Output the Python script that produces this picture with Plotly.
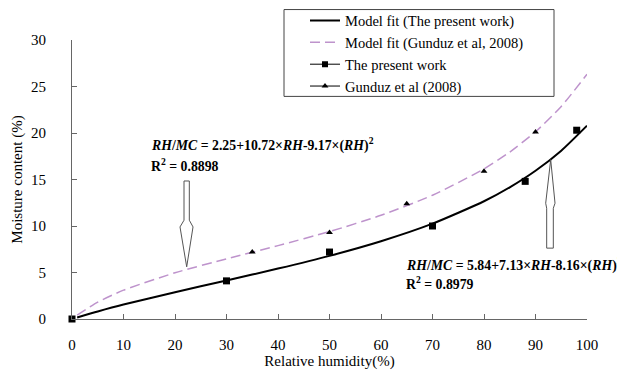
import plotly.graph_objects as go

# Model fit curves
fit_rh = [1, 5, 10, 20, 30, 40, 50, 60, 70, 80, 85, 90, 95, 100]
fit_present = [0.17, 0.81, 1.55, 2.88, 4.14, 5.42, 6.79, 8.36, 10.25, 12.66, 14.16, 15.94, 18.10, 20.79]
fit_gunduz = [0.42, 1.81, 3.10, 4.97, 6.47, 7.89, 9.40, 11.15, 13.31, 16.14, 17.95, 20.13, 22.85, 26.32]

# Experimental data
present_rh = [0, 30, 50, 70, 88, 98]
present_mc = [0.0, 4.1, 7.2, 10.0, 14.8, 20.3]
gunduz_rh = [35, 50, 65, 80, 90]
gunduz_mc = [7.2, 9.3, 12.4, 15.9, 20.1]

x_ticks = list(range(0, 101, 10))
y_ticks = list(range(0, 31, 5))

FONT = "Liberation Serif, Times New Roman, Times, serif"
VIOLET = "#BE93CC"

# page offset (body margin) compensation
OFF = 8
W, H = 625 - OFF, 379 - OFF
L, T = 72 - OFF, 39.5 - OFF
PW, PH = 515, 279.5


def px_x(p):
    return (p - 72) / PW


def px_y(p):
    return (319 - p) / PH


fig = go.Figure()
fig.add_trace(go.Scatter(x=fit_rh, y=fit_present, mode="lines", line=dict(color="black", width=2, shape="spline", smoothing=0.6),
                         name="Model fit (The present work)"))
fig.add_trace(go.Scatter(x=fit_rh, y=fit_gunduz, mode="lines", line=dict(color=VIOLET, width=1.5, dash="10px,5px", shape="spline", smoothing=0.6),
                         name="Model fit (Gunduz et al, 2008)"))
fig.add_trace(go.Scatter(x=present_rh, y=present_mc, mode="markers", marker=dict(symbol="square", size=7, color="black"),
                         showlegend=False, cliponaxis=False))
fig.add_trace(go.Scatter(x=gunduz_rh, y=gunduz_mc, mode="markers", marker=dict(symbol="triangle-up", size=6, color="black"),
                         showlegend=False))
# legend-only entries with line+marker samples
fig.add_trace(go.Scatter(x=[None], y=[None], mode="lines+markers", line=dict(color="black", width=1),
                         marker=dict(symbol="square", size=6, color="black"), name="The present work"))
fig.add_trace(go.Scatter(x=[None], y=[None], mode="lines+markers", line=dict(color="black", width=1),
                         marker=dict(symbol="triangle-up", size=6, color="black"), name="Gunduz et al (2008)"))

# legend frame
fig.add_shape(type="rect", xref="paper", yref="paper", x0=px_x(284), x1=px_x(554),
              y0=px_y(96), y1=px_y(9), line=dict(color="#444", width=1), fillcolor="rgba(0,0,0,0)")

# hollow arrows
arrow_style = dict(type="path", xref="x", yref="y", line=dict(color="#555", width=1), fillcolor="white")
fig.add_shape(path="M 21.75,14.84 L 22.78,14.84 L 22.78,10.62 L 23.5,9.9 L 22.27,5.61 L 20.97,9.9 L 21.75,10.62 Z", **arrow_style)
fig.add_shape(path="M 92.17,7.62 L 93.46,7.62 L 93.46,11.91 L 93.79,12.45 L 92.95,17.13 L 91.98,12.45 L 92.17,11.91 Z", **arrow_style)

ann_font = dict(family=FONT, size=13.8, color="black")
fig.add_annotation(x=15.0, y=18.78, xref="x", yref="y", xanchor="left", yanchor="middle", showarrow=False, font=ann_font,
                   text="<b><i>RH</i>/<i>MC</i> = 2.25+10.72×<i>RH</i>-9.17×(<i>RH</i>)<sup>2</sup></b>")
fig.add_annotation(x=15.0, y=16.52, xref="x", yref="y", xanchor="left", yanchor="middle", showarrow=False, font=ann_font,
                   text="<b>R<sup>2</sup> = 0.8898</b>")
fig.add_annotation(x=64.4, y=5.9, xref="x", yref="y", xanchor="left", yanchor="middle", showarrow=False, font=ann_font,
                   text="<b><i>RH</i>/<i>MC</i> = 5.84+7.13×<i>RH</i>-8.16×(<i>RH</i>)<sup>2</sup></b>")
fig.add_annotation(x=64.4, y=3.86, xref="x", yref="y", xanchor="left", yanchor="middle", showarrow=False, font=ann_font,
                   text="<b>R<sup>2</sup> = 0.8979</b>")

fig.update_layout(
    width=W, height=H,
    margin=dict(l=L, r=W - L - PW, t=T, b=H - T - PH, autoexpand=False),
    paper_bgcolor="white", plot_bgcolor="white",
    font=dict(family=FONT, size=14, color="black"),
    legend=dict(x=px_x(305), y=px_y(4), xanchor="left", yanchor="top",
                bgcolor="rgba(0,0,0,0)", borderwidth=0, font=dict(family=FONT, size=14.5), tracegroupgap=0),
    showlegend=True,
)
fig.update_xaxes(range=[0, 100], tickvals=x_ticks, ticks="inside", ticklen=5, tickcolor="#666",
                 showline=True, linecolor="#666", linewidth=1, showgrid=False, zeroline=False,
                 tickfont=dict(size=15), ticklabelstandoff=12, automargin=False,
                 title=dict(text="Relative humidity(%)", font=dict(size=15), standoff=2))
fig.update_yaxes(range=[0, 30], tickvals=y_ticks, ticks="inside", ticklen=5, tickcolor="#666",
                 showline=True, linecolor="#666", linewidth=1, showgrid=False, zeroline=False,
                 tickfont=dict(size=15), ticklabelstandoff=22, automargin=False,
                 title=dict(text="Moisture content (%)", font=dict(size=15), standoff=4))

fig.write_html("out.html")
